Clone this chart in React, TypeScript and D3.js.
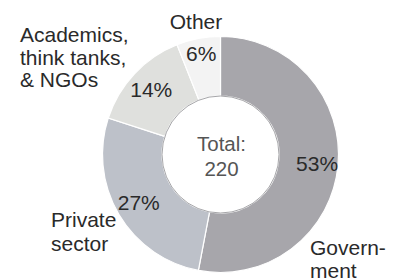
import React, { useEffect, useRef } from 'react';
import * as d3 from 'd3';

// shares of 220 respondents, clockwise from 12 o'clock
const categories = ['Government', 'Private sector', 'Academics, think tanks, & NGOs', 'Other'];
const shares = [53, 27, 14, 6];
const colors = ['#a7a6ab', '#bdc1c9', '#dfe0dd', '#f3f3f3'];
const total = 220;

// outside labels, one entry per text line
const nameLines = [
  ['Govern-', 'ment'],
  ['Private', 'sector'],
  ['Academics,', 'think tanks,', '& NGOs'],
  ['Other'],
];

const width = 405;
const height = 280;

const App: React.FC = () => {
  const svgRef = useRef<SVGSVGElement | null>(null);

  useEffect(() => {
    if (!svgRef.current) return;
    const svg = d3.select(svgRef.current);
    svg.selectAll('*').remove();

    const cx = 220.5;
    const cy = 154.5;
    const outer = 118;
    const inner = 58.5;
    const font = '"Liberation Sans", Arial, Helvetica, sans-serif';

    const data = categories.map((c, i) => ({ name: c, value: shares[i], color: colors[i], lines: nameLines[i] }));

    const pie = d3.pie<typeof data[0]>().value(d => d.value).sort(null);
    const arcs = pie(data);
    const arc = d3.arc<d3.PieArcDatum<typeof data[0]>>().innerRadius(inner).outerRadius(outer);

    const g = svg.append('g').attr('transform', `translate(${cx},${cy})`);

    g.selectAll('path.slice')
      .data(arcs)
      .enter().append('path')
        .attr('class', 'slice')
        .attr('d', arc)
        .attr('fill', d => d.data.color)
        .attr('stroke', '#fff')
        .attr('stroke-width', 1.2);

    // thin rim round the hole
    g.append('circle')
      .attr('r', inner)
      .attr('fill', '#fff')
      .attr('stroke', '#8f8f93')
      .attr('stroke-width', 0.8);

    // percentage labels, pushed a little outward of the ring's middle
    const labelRadius = [97, 95, 95, 103];
    g.selectAll('text.pct')
      .data(arcs)
      .enter().append('text')
        .attr('class', 'pct')
        .attr('x', (d, i) => Math.sin((d.startAngle + d.endAngle) / 2) * labelRadius[i])
        .attr('y', (d, i) => -Math.cos((d.startAngle + d.endAngle) / 2) * labelRadius[i])
        .attr('dy', '0.36em')
        .attr('text-anchor', 'middle')
        .style('font-family', font)
        .style('font-size', '21px')
        .style('fill', '#2a2a2a')
        .text(d => `${d.data.value}%`);

    // centre total
    const center = g.append('text')
      .attr('text-anchor', 'middle')
      .style('font-family', font)
      .style('font-size', '20.5px')
      .style('fill', '#555');
    center.append('tspan').attr('x', 1).attr('y', -3.5).text('Total:');
    center.append('tspan').attr('x', 1).attr('y', 21).text(String(total));

    // category names outside the ring
    const namePos = [
      { x: 310, y: 255, anchor: 'start', step: 22.5 },
      { x: 51, y: 227, anchor: 'start', step: 24 },
      { x: 20, y: 42, anchor: 'start', step: 22.5 },
      { x: 196, y: 29, anchor: 'middle', step: 23 },
    ];
    data.forEach((d, i) => {
      const t = svg.append('text')
        .attr('text-anchor', namePos[i].anchor)
        .style('font-family', font)
        .style('font-size', '21px')
        .style('fill', '#2a2a2a');
      d.lines.forEach((line, j) => {
        t.append('tspan')
          .attr('x', namePos[i].x)
          .attr('y', namePos[i].y + j * namePos[i].step)
          .text(line);
      });
    });
  }, []);

  return (
    <svg
      ref={svgRef}
      width={width}
      height={height}
      style={{ position: 'absolute', left: 0, top: 0, background: '#fff' }}
    />
  );
};

export default App;
